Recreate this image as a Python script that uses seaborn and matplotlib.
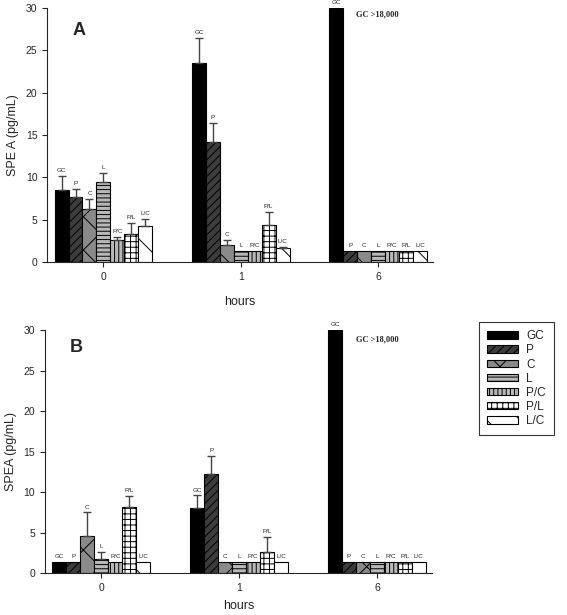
import matplotlib
matplotlib.use('Agg')
import matplotlib.pyplot as plt
import seaborn as sns
import pandas as pd

# ---------------- data ----------------
categories = ['GC', 'P', 'C', 'L', 'P/C', 'P/L', 'L/C']
hours = ['0', '1', '6']

A_values = {
    'GC':  [8.5, 23.5, 30.0],
    'P':   [7.7, 14.2, 1.3],
    'C':   [6.2, 2.0, 1.3],
    'L':   [9.5, 1.3, 1.3],
    'P/C': [2.6, 1.3, 1.3],
    'P/L': [3.3, 4.4, 1.3],
    'L/C': [4.2, 1.6, 1.3],
}
A_errors = {
    'GC':  [1.7, 3.0, 0.0],
    'P':   [0.9, 2.2, 0.0],
    'C':   [1.2, 0.6, 0.0],
    'L':   [1.0, 0.0, 0.0],
    'P/C': [0.3, 0.0, 0.0],
    'P/L': [1.3, 1.5, 0.0],
    'L/C': [0.9, 0.2, 0.0],
}
B_values = {
    'GC':  [1.4, 8.0, 30.0],
    'P':   [1.4, 12.2, 1.4],
    'C':   [4.6, 1.4, 1.4],
    'L':   [1.7, 1.4, 1.4],
    'P/C': [1.4, 1.4, 1.4],
    'P/L': [8.2, 2.6, 1.4],
    'L/C': [1.4, 1.4, 1.4],
}
B_errors = {
    'GC':  [0.0, 1.6, 0.0],
    'P':   [0.0, 2.3, 0.0],
    'C':   [2.9, 0.0, 0.0],
    'L':   [0.9, 0.0, 0.0],
    'P/C': [0.0, 0.0, 0.0],
    'P/L': [1.3, 1.9, 0.0],
    'L/C': [0.0, 0.0, 0.0],
}

face_colors = {'GC': '#000000', 'P': '#3c3c3c', 'C': '#8a8a8a', 'L': '#b8b8b8',
               'P/C': '#b8b8b8', 'P/L': '#ffffff', 'L/C': '#ffffff'}
hatches = {'GC': '', 'P': '////', 'C': 'x', 'L': '----', 'P/C': '||||',
           'P/L': '+++', 'L/C': '\\'}

# ---------------- style ----------------
sns.set_style('ticks')
plt.rcParams['font.family'] = ['Liberation Sans', 'DejaVu Sans']
plt.rcParams['hatch.linewidth'] = 0.7
plt.rcParams['hatch.color'] = 'black'

fig = plt.figure(figsize=(5.67, 6.15), dpi=100)
axA = fig.add_axes([0.083, 0.574, 0.681, 0.413])
axB = fig.add_axes([0.079, 0.068, 0.683, 0.395])


def draw(ax, vals, errs, ylabel, letter, letter_pos, note_pos, xpad):
    rows = [(h, c, vals[c][i]) for c in categories for i, h in enumerate(hours)]
    df = pd.DataFrame(rows, columns=['hours', 'group', 'value'])
    sns.barplot(data=df, x='hours', y='value', hue='group', order=hours,
                hue_order=categories, palette=face_colors, width=0.71, gap=0,
                errorbar=None, saturation=1, edgecolor='black', linewidth=0.8,
                legend=False, ax=ax)
    for j, cat in enumerate(categories):
        cont = ax.containers[j]
        for i, bar in enumerate(cont.patches):
            bar.set_hatch(hatches[cat])
            bar.set_edgecolor('black')
            x = bar.get_x() + bar.get_width() / 2
            top = bar.get_height()
            err = errs[cat][i]
            if err > 0:
                ax.errorbar([x], [top], yerr=[[0], [err]], fmt='none',
                            ecolor='#444444', elinewidth=1.0, capsize=3,
                            capthick=1.0, zorder=3)
            ax.text(x, top + err + 0.35, cat, ha='center', va='bottom',
                    fontsize=4.5, color='#222222', clip_on=False)
    ax.set_xlim(-0.41, 2.4)
    ax.set_ylim(0, 30)
    ax.set_yticks(range(0, 31, 5))
    ax.tick_params(axis='both', labelsize=7.5, length=3.5, width=0.8)
    ax.set_xlabel('hours', fontsize=9, labelpad=xpad)
    ax.set_ylabel(ylabel, fontsize=9, labelpad=5)
    for s in ['top', 'right']:
        ax.spines[s].set_visible(False)
    for s in ['left', 'bottom']:
        ax.spines[s].set_linewidth(0.8)
    ax.text(letter_pos[0], letter_pos[1], letter, transform=ax.transAxes,
            fontsize=13, fontweight='bold', ha='center', va='center')
    ax.text(note_pos[0], note_pos[1], 'GC >18,000', transform=ax.transAxes,
            fontsize=6, fontweight='bold', family='Liberation Serif',
            ha='left', va='center')


draw(axA, A_values, A_errors, 'SPE A (pg/mL)', 'A', (0.083, 0.913), (0.80, 0.976), 10)
draw(axB, B_values, B_errors, 'SPEA (pg/mL)', 'B', (0.08, 0.93), (0.804, 0.963), 5)

handles = [axB.containers[j].patches[0] for j in range(len(categories))]
leg = fig.legend(handles, categories, loc='upper left',
                 bbox_to_anchor=(479 / 567, 1 - 322 / 615), fontsize=8.5,
                 frameon=True, fancybox=False, edgecolor='black',
                 handlelength=2.6, handleheight=0.6, handletextpad=0.7,
                 labelspacing=0.18, borderpad=0.7, borderaxespad=0)
leg.get_frame().set_linewidth(0.8)

fig.savefig('out.png', dpi=100)
